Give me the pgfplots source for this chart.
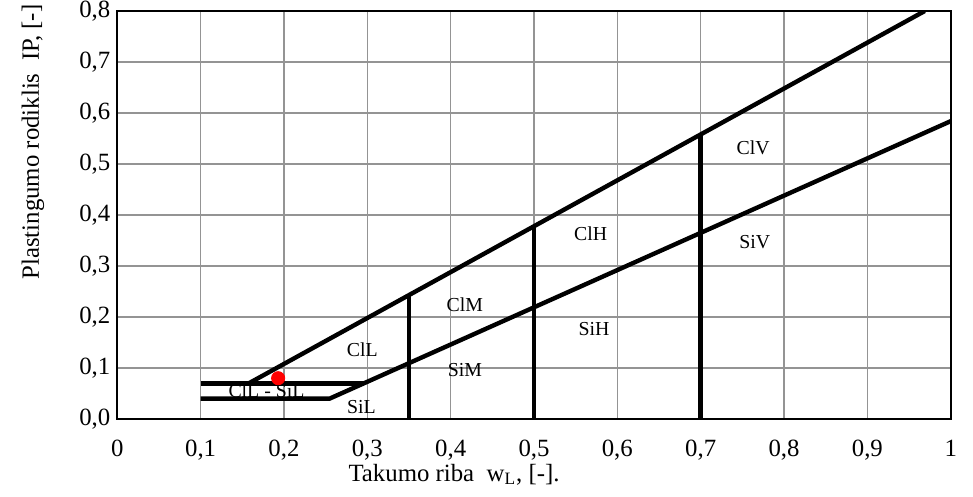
\documentclass[border=0pt]{standalone}
\usepackage{fontspec}
\setmainfont{Liberation Serif}
\usepackage{pgfplots}
\pgfplotsset{compat=1.18}

\newcommand{\tickfont}{\fontsize{12.4bp}{14bp}\selectfont}
\newcommand{\zonefont}{\fontsize{9.9bp}{11bp}\selectfont}

\begin{document}
\begin{tikzpicture}
\begin{axis}[
    name=ax,
    scale only axis,
    width=416.7bp,
    height=204bp,
    xmin=0, xmax=1,
    ymin=0, ymax=0.8,
    xtick={0,0.1,...,1},
    ytick={0,0.1,...,0.8},
    grid=major,
    major grid style={line width=0.7bp, draw=black!42},
    major tick length=0pt,
    axis line style={line width=1bp},
    /pgf/number format/assume math mode=true,
    /pgf/number format/use comma,
    xticklabel style={font=\tickfont, anchor=base, inner sep=0pt, yshift=-18.8bp},
    yticklabel style={font=\tickfont,
        /pgf/number format/fixed, /pgf/number format/fixed zerofill,
        /pgf/number format/precision=1},
    xlabel={Takumo riba\ \ w\textsubscript{L}, [-].},
    xlabel style={font=\tickfont, inner sep=0pt, at={(rel axis cs:0.404,-0.152)}, anchor=base},
    ylabel={Plastingumo rodiklis\ \ IP, [-]},
    ylabel style={font=\tickfont, inner sep=0pt, at={(rel axis cs:-0.094,0.679)}, anchor=base, rotate=0},
]
% studied soil sample
\addplot[only marks, mark=*, mark size=3.3bp, color=red] coordinates {(0.193,0.080)};

% U-line: IP = 0.9 (wL - 0.08)
\addplot[black, line width=2.2bp] coordinates {(0.1578,0.070) (0.9689,0.800)};
% A-line: IP = 0.73 (wL - 0.20), with the SiL step
\addplot[black, line width=2.2bp] coordinates {(0.10,0.040) (0.2548,0.040) (1.00,0.584)};
% CL-ML band upper edge
\addplot[black, line width=2.2bp] coordinates {(0.10,0.070) (0.2959,0.070)};
% liquid limit boundaries
\addplot[black, line width=2.2bp] coordinates {(0.35,0) (0.35,0.243)};
\addplot[black, line width=2.2bp] coordinates {(0.50,0) (0.50,0.378)};
\addplot[black, line width=2.2bp] coordinates {(0.70,0) (0.70,0.558)};

\node[font=\zonefont] at (axis cs:0.763,0.531) {ClV};
\node[font=\zonefont] at (axis cs:0.765,0.346) {SiV};
\node[font=\zonefont] at (axis cs:0.568,0.364) {ClH};
\node[font=\zonefont] at (axis cs:0.572,0.176) {SiH};
\node[font=\zonefont] at (axis cs:0.417,0.224) {ClM};
\node[font=\zonefont] at (axis cs:0.417,0.096) {SiM};
\node[font=\zonefont] at (axis cs:0.294,0.135) {ClL};
\node[font=\zonefont] at (axis cs:0.293,0.024) {SiL};
\node[font=\zonefont] at (axis cs:0.179,0.055) {ClL - SiL};
\end{axis}
\pgfresetboundingbox
\useasboundingbox ([xshift=-58.65bp,yshift=-39bp]ax.south west)
    rectangle ([xshift=11.15bp,yshift=5.5bp]ax.north east);
\end{tikzpicture}
\end{document}
